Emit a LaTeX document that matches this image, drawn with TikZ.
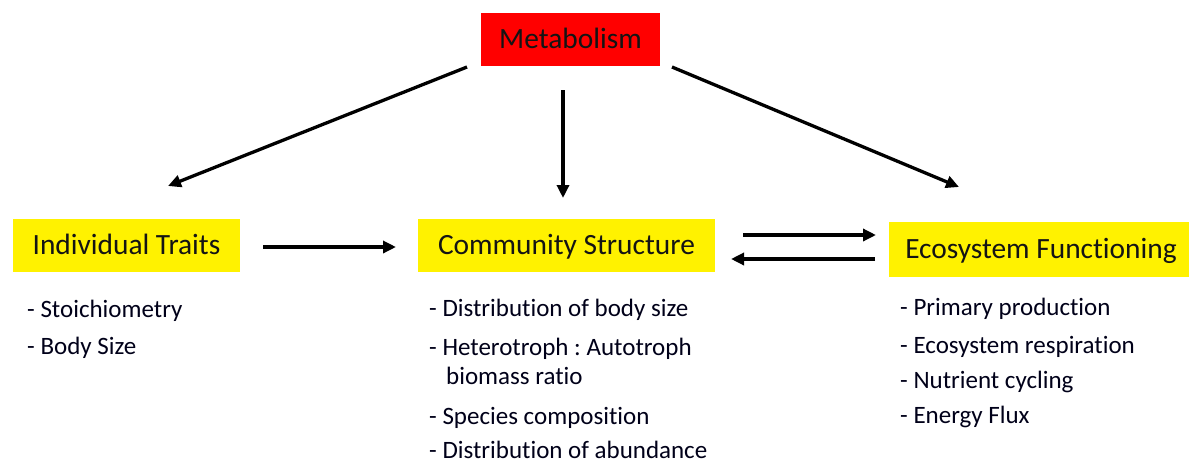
\documentclass[tikz,border=0pt]{standalone}
\usepackage{fontspec}
\setmainfont{Carlito}[Ligatures=NoCommon]
\usetikzlibrary{arrows.meta}
\frenchspacing
\begin{document}
\begin{tikzpicture}[x=1pt,y=-1pt,
  headbox/.style={inner sep=0pt,text height=20pt,text depth=2pt,font=\fontsize{29.4}{34}\selectfont,text=black!92},
  yellowbox/.style={headbox,fill=yellow},
  item/.style={anchor=base west,inner sep=0pt,font=\fontsize{25}{30}\selectfont,text=black!90!blue},
  arr/.style={line width=3.3pt,-{Triangle[length=13pt,width=12pt]}}]
\useasboundingbox[fill=white] (0,0) rectangle (1191,464);
% boxes
\node[headbox,fill=red,minimum width=179pt,minimum height=53pt] (met) at (570.5,39.5) {Metabolism};
\node[yellowbox,minimum width=227pt,minimum height=53pt] (ind) at (126.5,245.5) {Individual Traits};
\node[yellowbox,minimum width=297pt,minimum height=53pt] (com) at (566.5,245.5) {Community Structure};
\node[yellowbox,minimum width=300pt,minimum height=55pt] (eco) at (1039,249.5) {\hspace*{4pt}Ecosystem Functioning};
% arrow end points
\coordinate (m1) at (467,67);
\coordinate (i1) at (168,186);
\coordinate (m2) at (563,90);
\coordinate (c1) at (563,198);
\coordinate (m3) at (672,67);
\coordinate (e1) at (959,187);
\coordinate (i2) at (263,247);
\coordinate (c2) at (396,247);
\coordinate (c3) at (743,235);
\coordinate (e2) at (876,235);
\coordinate (e3) at (875,259);
\coordinate (c4) at (731,259);
\draw[arr] (m1) -- (i1);
\draw[arr] (m2) -- (c1);
\draw[arr] (m3) -- (e1);
\draw[arr] (i2) -- (c2);
\draw[arr] (c3) -- (e2);
\draw[arr] (e3) -- (c4);
% lists
\node[item] (i-a) at (27,317) {- Stoichiometry};
\node[item] (i-b) at (27,354) {- Body Size};
\node[item] (c-a) at (429,316) {- Distribution of body size};
\node[item] (c-b) at (429,355) {- Heterotroph : Autotroph};
\node[item] (c-c) at (446,384) {biomass ratio};
\node[item] (c-d) at (429,424) {- Species composition};
\node[item] (c-e) at (429,458) {- Distribution of abundance};
\node[item] (e-a) at (900,315) {- Primary production};
\node[item] (e-b) at (900,353) {- Ecosystem respiration};
\node[item] (e-c) at (900,388) {- Nutrient cycling};
\node[item] (e-d) at (900,423) {- Energy Flux};
\end{tikzpicture}
\end{document}
